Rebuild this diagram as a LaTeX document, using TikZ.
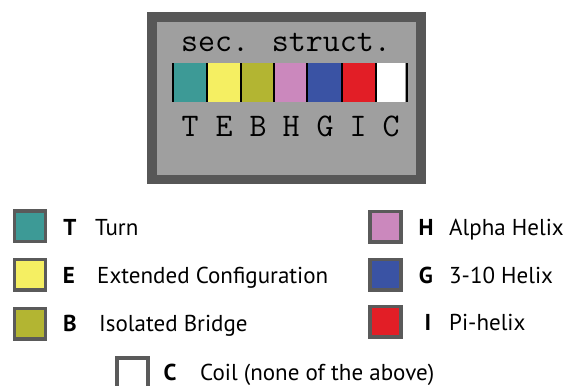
\documentclass[tikz,border=0pt]{standalone}
\usepackage{fontspec}
\setmainfont{PT Sans}
\definecolor{framedark}{HTML}{575757}
\definecolor{framelight}{HTML}{9F9F9F}
\definecolor{sqborder}{HTML}{5A5A5A}
\definecolor{cT}{HTML}{3D9A96}
\definecolor{cE}{HTML}{F5EF62}
\definecolor{cB}{HTML}{B3B532}
\definecolor{cH}{HTML}{CB88BD}
\definecolor{cG}{HTML}{3A53A4}
\definecolor{cI}{HTML}{E21E26}
\tikzset{
  sq/.style={draw=sqborder, line width=3.5pt, minimum width=31pt, minimum height=30.5pt, inner sep=0pt},
  code/.style={font=\bfseries\fontsize{23}{23}\selectfont, anchor=base, inner sep=0pt},
  desc/.style={font=\fontsize{23}{23}\selectfont, anchor=base west, inner sep=0pt},
  mono/.style={font=\ttfamily\fontsize{33}{33}\selectfont, anchor=base, inner sep=0pt},
  seg/.style={minimum width=34pt, minimum height=39pt, inner sep=0pt, anchor=north west}
}
\begin{document}
\begin{tikzpicture}[x=1pt,y=-1pt]
\useasboundingbox (0,0) rectangle (563,386);
% top panel
\fill[framedark] (147,12) rectangle (426,184);
\fill[framelight] (157,22) rectangle (416,175);
\node[mono] (title) at (286,51) {sec. struct.};
% color bar
\node[seg, fill=cT] (bT) at (173,63) {};
\node[seg, fill=cE] (bE) at (207,63) {};
\node[seg, fill=cB] (bB) at (241,63) {};
\node[seg, fill=cH] (bH) at (274,63) {};
\node[seg, fill=cG] (bG) at (307,63) {};
\node[seg, fill=cI] (bI) at (342,63) {};
\node[seg, fill=white, minimum width=29pt] (bC) at (376,63) {};
\foreach \x in {173,207,241,274,307,342,376,407}
  \fill[black] (\x-1.3,63) rectangle (\x+1.0,102);
\node[mono] (lT) at (190,136) {T};
\node[mono] (lE) at (224,136) {E};
\node[mono] (lB) at (258,136) {B};
\node[mono] (lH) at (291,136) {H};
\node[mono] (lG) at (325,136) {G};
\node[mono] (lI) at (358,136) {I};
\node[mono] (lC) at (391,136) {C};
% legend left
\node[sq, fill=cT] (sT) at (30,226) {};
\node[sq, fill=cE] (sE) at (30,274.5) {};
\node[sq, fill=cB] (sB) at (30,323.5) {};
\node[code] (kT) at (70,235) {T};
\node[code] (kE) at (69,283) {E};
\node[code] (kB) at (70,331) {B};
\node[desc] (dT) at (95,235) {Turn};
\node[desc] (dE) at (97,283) {Extended Configuration};
\node[desc] (dB) at (99,331) {Isolated Bridge};
% legend right
\node[sq, fill=cH] (sH) at (385.5,226.5) {};
\node[sq, fill=cG] (sG) at (385.5,274.5) {};
\node[sq, fill=cI] (sI) at (385.5,321.5) {};
\node[code] (kH) at (426,235) {H};
\node[code] (kG) at (426,283) {G};
\node[code] (kI) at (428,330) {I};
\node[desc] (dH) at (449,235) {Alpha Helix};
\node[desc] (dG) at (449,283) {3-10 Helix};
\node[desc] (dI) at (449,330) {Pi-helix};
% coil
\node[sq, fill=white] (sC) at (132.5,373) {};
\node[code] (kC) at (170,380.5) {C};
\node[desc] (dC) at (200,380.5) {Coil (none of the above)};
\end{tikzpicture}
\end{document}
